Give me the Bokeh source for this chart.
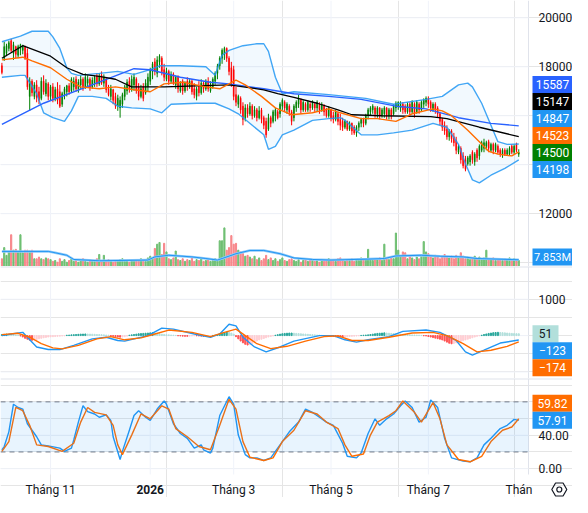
from bokeh.plotting import figure
from bokeh.models import Range1d, Label, BoxAnnotation, ColumnDataSource
from bokeh.layouts import column
from bokeh.embed import file_html
from bokeh.resources import INLINE

# ---------------- data ----------------
bar_index = list(range(-21, 203))

month_ticks = [0, 43, 79, 121, 163]
month_labels = ["Tháng 11", "2026", "Tháng 3", "Tháng 5", "Tháng 7"]
month_bold = [False, True, False, False, False]
last_month_label = "Thán"

opens = [18040,18350,18550,18750,19060,18550,18820,18470,18750,18670,
         18820,18550,16790,17410,16790,17260,16980,16710,17410,16900,
         17300,16790,17180,16710,17100,16980,16470,16860,16980,17220,
         17020,17180,17490,17100,17260,17490,17180,17330,17490,17180,
         17330,17610,17300,17650,17330,17490,17100,16790,17060,16790,
         16390,16320,16470,16790,17020,17410,17100,17260,17490,17180,
         16790,17180,16940,17180,17410,17810,18200,17730,18200,18350,
         17880,17490,17810,17410,17690,17260,17570,17020,17410,17020,
         17410,17180,17410,17100,16790,17180,16940,17330,17100,17410,
         17020,17180,17410,17730,18040,18350,18510,18750,18350,17960,
         17880,16860,16470,16710,16390,15920,16320,16080,16390,16000,
         16240,15920,16240,15920,15770,15450,15920,15770,16000,16160,
         16080,16390,16550,16240,16390,16160,15920,16320,16470,16630,
         16240,16470,16240,16470,16320,16470,16320,16470,16240,16390,
         16240,16000,16240,16000,15850,16080,15850,15770,15530,15770,
         15450,15690,15530,15300,15530,15690,15850,15690,16000,16160,
         16240,16320,16080,16320,16000,16080,16320,16000,16240,16080,
         16320,16390,16320,16470,16390,16160,16470,16160,16470,16160,
         16470,16240,16470,16550,16710,16550,16240,16470,16320,16080,
         15850,15610,15450,15140,15380,15140,14980,14510,14670,14360,
         14200,14040,14120,14510,14120,14590,14360,14590,14670,14750,
         14940,14590,14830,14590,14750,14590,14430,14590,14430,14430,
         14750,14510,14830,14430]
highs = [18160,19020,18940,19060,19140,19020,18860,18900,18940,18900,
         18860,18750,17570,17490,17370,17450,17180,17570,17650,17490,
         17370,17260,17330,17180,17370,17260,16980,17180,17260,17330,
         17570,17570,17610,17490,17650,17570,17730,17650,17570,17570,
         17650,17730,17730,17810,17690,17570,17260,17260,17100,16940,
         16860,16790,16940,17260,17490,17570,17650,17730,17570,17330,
         17260,17330,17490,17730,17960,18200,18350,18430,18510,18430,
         18120,17960,17880,17810,17770,17650,17650,17410,17490,17410,
         17570,17490,17490,17330,17180,17410,17490,17410,17490,17570,
         17410,17570,17810,18120,18430,18750,18820,18790,18430,18200,
         18040,17180,16860,16790,16550,16470,16470,16550,16470,16390,
         16320,16390,16320,16000,15920,16080,16000,16240,16320,16240,
         16550,16710,16630,16550,16470,16240,16470,16630,16860,16710,
         16630,16550,16630,16550,16630,16550,16630,16550,16550,16470,
         16320,16390,16280,16160,16240,16160,16080,15920,15850,15800,
         15770,15720,15610,15610,15770,15920,15920,16080,16320,16390,
         16470,16390,16390,16350,16320,16390,16350,16320,16320,16470,
         16590,16590,16590,16550,16470,16550,16550,16630,16550,16630,
         16550,16630,16710,16790,16790,16630,16550,16550,16390,16160,
         15920,15770,15610,15450,15450,15300,15140,14830,14750,14510,
         14360,14360,14430,14590,14510,14670,14830,14980,15060,14980,
         15020,14900,14900,14900,14830,14670,14670,14670,14670,14750,
         14830,14830,14900,14630]
lows = [17690,18240,18430,18630,18590,18280,18350,18350,18470,18510,
        18280,17060,16200,16790,16670,16550,16470,16630,16860,16790,
        16630,16630,16550,16590,16470,16320,16360,16670,16790,16860,
        16940,17020,16980,16940,17100,17020,17100,17180,17020,17100,
        17180,17180,17220,17260,17180,16940,16790,16630,16470,16280,
        16200,15920,16320,16630,16860,16940,16980,17020,16900,16630,
        16710,16590,16860,16980,17260,17490,17650,17570,17960,17650,
        17410,17410,17260,17330,17260,17100,16940,16940,16860,16940,
        17020,17100,16860,16710,16630,16790,16860,16940,17020,16980,
        16940,17100,17260,17490,17880,18120,18280,18200,17650,17180,
        16630,16390,16320,16080,15610,15770,15920,16000,15850,15920,
        15770,15850,15690,15450,15100,15380,15530,15690,15770,15850,
        15920,16240,16160,16080,16000,15610,15770,16160,16320,16080,
        16160,16160,16160,16160,16240,16160,16160,16080,16160,16000,
        15920,15920,15770,15690,15770,15610,15410,15380,15450,15380,
        15380,15220,15220,15140,15380,15530,15530,15610,15850,16000,
        16080,15920,15920,15850,15920,15920,15850,15850,15850,16000,
        16160,16240,16160,16080,16080,16080,16000,16080,15920,16080,
        16080,16160,16320,16390,16320,16160,16160,16080,15920,15610,
        15380,15220,15020,14980,14900,14750,14430,14430,14040,13850,
        13730,13960,13960,14040,13960,14120,14200,14510,14510,14590,
        14510,14510,14430,14510,14430,14320,14280,14360,14360,14360,
        14430,14430,14510,14320]
closes = [17770,18820,18860,18980,18670,18900,18510,18820,18900,18860,
          18350,17180,17410,16940,17260,16750,16630,17410,16980,17330,
          16790,17180,16710,17060,16630,16390,16900,17100,17220,16980,
          17490,17410,17100,17370,17490,17180,17570,17490,17140,17450,
          17570,17300,17610,17330,17570,17060,16860,17100,16630,16390,
          16710,16630,16860,17180,17370,17100,17490,17570,17020,16790,
          17100,16710,17330,17570,17880,18120,17810,18280,18430,17810,
          17570,17810,17410,17690,17330,17570,17100,17330,17020,17330,
          17180,17410,16980,16860,17100,16940,17330,17100,17410,17100,
          17260,17490,17730,18040,18350,18670,18750,18350,17810,17330,
          16790,16550,16790,16240,15850,16320,16080,16390,16000,16240,
          15920,16200,15850,15610,15220,15920,15690,16160,16240,15920,
          16470,16630,16320,16470,16160,15770,16390,16550,16710,16240,
          16550,16240,16550,16320,16550,16320,16550,16240,16470,16160,
          16000,16320,15920,15850,16160,15770,15610,15530,15770,15450,
          15690,15380,15300,15530,15690,15850,15690,16000,16240,16320,
          16390,16080,16320,16000,16240,16320,16000,16240,16000,16390,
          16510,16550,16470,16240,16160,16470,16160,16550,16080,16550,
          16240,16550,16630,16710,16470,16320,16470,16240,16080,15770,
          15530,15380,15140,15380,15060,14900,14590,14750,14200,13960,
          13810,14280,14360,14200,14430,14280,14750,14900,14900,14900,
          14670,14830,14590,14830,14510,14430,14590,14430,14590,14670,
          14510,14750,14590,14500]

volumes_m = [9,22,13,17,37,19,20,17,37,16,19,19,18,19,9,9,11,9,8,10,9,
             8,6,7,5,9,6,8,5,7,10,6,8,5,7,9,6,5,8,7,6,9,
             14,7,13,6,8,7,5,6,7,8,9,6,7,5,8,6,7,8,9,7,6,10,
             12,10,21,26,28,14,27,17,9,8,10,18,8,7,9,6,8,7,10,6,8,7,9,6,7,8,6,7,9,8,
             30,30,45,19,22,36,26,27,19,17,15,12,13,
             11,9,12,8,10,7,9,13,8,10,7,9,6,8,10,7,6,8,9,7,6,8,5,7,9,6,7,8,6,7,5,8,6,7,9,
             7,8,6,9,10,7,6,8,7,9,6,8,7,10,8,9,20,8,7,9,8,10,7,26,9,8,
             10,9,39,19,11,17,16,9,12,10,8,11,9,12,
             29,17,15,12,10,13,11,9,12,14,11,10,12,9,13,
             10,16,12,9,11,8,10,12,9,11,8,10,19,9,8,10,7,9,8,7,9,8,10,7,9,8,7]

vol_ma_idx = [-21,-1,2,7,10,21,42,45,51,61,67,72,74,80,86,92,99,105,113,121,137,144,149,160,168,178,184,202]
vol_ma_val = [17.6,17.6,16.0,13.1,8.2,6.7,7.5,11.2,13.1,11.2,9.3,7.5,9.3,14.9,18.7,18.7,14.9,10.0,8.2,7.5,8.6,9.3,12.3,13.1,12.0,11.2,9.3,7.853]

ma_long_idx = [-21,-3,21,36,43,56,69,77,92,105,120,134,149,162,176,190,202]
ma_long_val = [15650,16510,17370,17920,17880,17570,17370,17300,17100,16900,16790,16670,16390,16280,15920,15690,15587]

ma_mid_idx = [-21,-12,0,7,14,21,28,35,49,63,77,92,98,105,115,124,130,143,164,171,185,202]
ma_mid_val = [18350,18860,18430,17960,17690,17610,17490,17180,17180,17220,17260,17060,16900,16750,16510,16240,16040,16000,15960,15880,15530,15147]

bb_mid_idx = [-21,-12,-8,0,7,13,21,28,36,43,49,57,67,73,80,84,91,97,104,113,120,125,134,141,149,156,165,169,173,180,185,189,193,199,202]
bb_mid_val = [18280,18390,18240,17960,17490,17180,17100,17180,17060,16980,17300,17370,17180,17100,17450,17260,16790,16320,16040,16120,16280,16120,15880,15880,15770,16080,16280,16200,16000,15410,14940,14550,14430,14360,14523]

bb_up_idx = [-21,-13,-8,-1,1,4,7,9,12,21,29,36,43,47,56,67,71,74,77,83,89,92,94,97,100,105,120,136,148,162,169,176,180,182,186,190,193,197,202]
bb_up_val = [19020,19250,19450,19450,19220,18750,17960,17730,17650,17730,17810,17690,17880,18040,18040,18000,17650,18470,18670,18860,18940,18940,18630,17570,16900,16980,16860,16710,16470,16670,16790,17260,17330,17180,16510,15610,14940,14830,14847]

bb_low_idx = [-21,-13,-11,-6,-3,1,6,9,12,18,24,29,35,43,48,52,63,71,77,81,87,92,94,97,100,105,113,120,125,127,134,141,148,156,165,171,176,179,182,185,190,196,202]
bb_low_val = [17570,17650,17650,16900,16120,15920,15770,16200,16790,16790,16710,16390,16320,16280,16120,16470,16510,16510,16280,16080,15610,15220,14630,14750,15220,15410,15810,15880,15920,15810,15220,15220,15300,15410,15690,15530,14830,14040,13380,13260,13570,13850,14198]

macd_idx = [-21,-17,-12,-10,-6,-1,4,10,18,24,29,32,42,48,53,62,69,73,77,80,83,88,93,99,105,116,122,127,132,137,146,152,162,168,175,179,182,187,194,202]
macd_val = [0,45,89,-45,-313,-384,-384,-268,-89,-45,-134,-152,0,205,179,45,-45,45,313,268,-45,-313,-447,-313,-152,0,0,-116,-179,-116,-27,116,152,89,-134,-447,-536,-402,-205,-123]

signal_idx = [-21,-14,-9,-4,1,5,12,20,26,32,39,45,51,61,69,75,80,84,89,95,102,110,118,124,130,137,146,156,165,171,178,184,190,197,202]
signal_val = [27,63,-45,-223,-339,-366,-268,-89,-27,-116,-63,45,152,89,-27,89,179,0,-223,-357,-295,-152,-27,-9,-134,-134,-45,71,89,0,-223,-447,-402,-295,-174]

hist = [30,35,40,38,32,25,15,8,-10,
        -40,-75,-100,-125,-130,-120,-105,-90,-75,-60,-50,-40,
        -35,-30,-25,-20,-15,-10,-5,
        10,15,20,25,30,35,40,42,45,42,40,38,35,30,28,25,20,15,10,
        -10,-20,-30,-40,-45,-40,-30,-15,
        10,20,30,40,50,55,60,65,70,75,78,70,60,50,40,30,25,20,15,
        10,5,-5,-10,-15,-20,-20,-15,-10,-5,-5,-10,-15,-20,-15,-10,-5,5,10,
        30,50,70,85,95,90,70,40,
        -30,-90,-150,-200,-240,-260,-250,-220,-180,
        -150,-120,-100,-80,-60,-40,-25,-10,10,25,
        40,50,60,65,70,70,65,60,55,50,45,40,35,30,25,20,15,10,5,-5,-10,-15,
        -20,-25,-30,-35,-40,-40,-35,-30,-25,-20,-15,-10,-5,5,10,15,
        20,30,40,50,60,65,70,75,70,65,60,55,50,45,40,35,
        30,25,20,18,15,12,10,5,-5,-10,
        -25,-40,-55,-70,-85,-100,-120,-150,-180,-210,-225,-215,
        -200,-180,-160,-140,-120,-100,-80,-60,-40,-20,-5,10,
        30,45,60,70,80,85,90,85,80,75,70,65,60,55,52,51]

k_idx = [-21,-20,-18,-16,-14,-12,-10,-6,-4,-1, 4,6,9,10,12,14,16,19,21,24,
         26,27,30,31,34,36,38,41,43,46, 49,50,53,56,59,62,65,66,69,70,
         73,77,79,81,84,86,89,92,95,99, 103,107,110,113,116,119,122,126,128,132,
         134,137,140,142,145,148,151,153,156,159, 162,164,167,170,173,178,181,184,187,190,
         194,197,200,202]
k_val = [22.6,26.5,44.1,77.2,73.3,71.4,53.8,38.2,28.5,27.3, 24.6,20.7,24.6,34.3,55.8,75.3,68.3,65.5,61.6,64.4,
         57.7,38.2,10.9,20.7,46.0,63.6,69.4,61.6,57.7,71.4, 81.1,77.2,53.8,42.1,36.3,24.6,28.5,22.6,18.7,24.6,
         63.6,86.2,77.2,40.2,16.8,12.9,12.9,9.8,12.9,28.5, 44.1,55.8,71.4,67.5,61.6,55.8,51.9,30.4,14.8,12.9,
         18.7,42.1,59.7,51.9,59.7,65.5,75.3,81.1,73.3,55.8, 61.6,82.3,73.3,36.3,12.9,9.0,8.2,12.9,28.5,36.3,
         48.0,51.9,59.0,57.91]

d_idx = [-21,-18,-15,-12,-9,-6,-1,5,10,13, 16,19,24,27,29,31,35,39,43,48,
         51,54,59,64,69,73,77,80,83,86, 92,96,100,105,110,115,119,124,127,130,
         135,138,141,146,149,152,157,160,165,168, 171,176,181,186,190,195,199,202]
d_val = [20.7,32.4,73.3,69.4,51.9,28.5,26.5,20.7,30.4,55.8, 73.3,67.5,64.4,51.9,28.5,16.8,40.2,65.5,59.7,75.3,
         71.4,48.0,38.2,26.5,22.6,51.9,83.1,71.4,32.4,13.7, 9.8,12.9,32.4,46.0,69.4,65.5,55.8,48.0,28.5,14.8,
         17.6,40.2,55.8,63.6,69.4,81.1,67.5,55.8,79.2,59.7, 28.5,10.9,8.2,14.8,32.4,46.0,49.9,59.82]

price_ticks = [12000, 14000, 16000, 18000, 20000]
macd_ticks = [-1000, 0, 1000]
stoch_ticks = [0, 40, 80]
stoch_bands = [20, 80]

# ---------------- layout & style ----------------
FONT = "Roboto"
TXT = "#131722"
GRID = "#f0f3fa"
SEP = "#e0e3eb"
UP, DOWN = "#008000", "#ff0000"
TW = 572            # total width
FW = 528            # plotting area width (rest is the price scale)
H1, H2, H3, HX = 266, 112, 96, 23
X_LO, X_HI = -21.6, 206.2
X_END = X_LO + (X_HI - X_LO) * TW / FW
XPP = (X_END - X_LO) / TW
P_LO, P_HI = 9843, 20706
V_LO, V_HI = 0, 310
M_LO, M_HI = -1180, 1900
S_LO, S_HI = -7, 108
S_AX = S_LO - (S_HI - S_LO) * HX / H3
BOX_H = 17

x_range = Range1d(X_LO, X_END)


def make_fig(h, y_lo, y_hi, grid_lo=None):
    p = figure(width=TW, height=h, x_range=x_range, y_range=Range1d(y_lo, y_hi),
               x_axis_location=None, y_axis_location=None, output_backend="svg",
               toolbar_location=None, min_border=0,
               background_fill_color="white", border_fill_color="white",
               outline_line_color=None)
    glo = y_lo if grid_lo is None else grid_lo
    p.segment(x0=month_ticks, x1=month_ticks, y0=[glo] * len(month_ticks),
              y1=[y_hi] * len(month_ticks), line_color=GRID, line_width=1)
    p.segment(x0=[X_HI], x1=[X_HI], y0=[glo], y1=[y_hi], line_color=SEP, line_width=1)
    return p


def hgrid(p, ticks):
    p.segment(x0=[X_LO] * len(ticks), x1=[X_HI] * len(ticks), y0=ticks, y1=ticks,
              line_color=GRID, line_width=1)


def stack(items, lo, hi, h, anchor):
    pos = [(v - lo) / (hi - lo) * h for v in [it[0] for it in items]]
    order = sorted(range(len(items)), key=lambda k: -pos[k])
    a = order.index(anchor)
    pp = [pos[k] for k in order]
    for j in range(a - 1, -1, -1):
        pp[j] = max(pp[j], pp[j + 1] + BOX_H)
    for j in range(a + 1, len(pp)):
        pp[j] = min(pp[j], pp[j - 1] - BOX_H)
    out = [None] * len(items)
    for j, k in enumerate(order):
        out[k] = pp[j]
    return out


def scale_labels(p, ticks, texts, lo, hi, h, box_pos):
    for v, t in zip(ticks, texts):
        py = (v - lo) / (hi - lo) * h
        if py < 6 or py > h - 6:
            continue
        if any(abs(py - b) < 13 for b in box_pos):
            continue
        p.add_layout(Label(x=FW + 10, y=py, x_units="screen", y_units="screen", text=t,
                           text_align="left", text_baseline="middle", text_font=FONT,
                           text_font_size="12px", text_color=TXT))


def value_boxes(p, items, pos, lo, hi, h):
    ypp = (hi - lo) / h
    for (v, text, bg, fg, fs), py in zip(items, pos):
        yc = lo + py * ypp
        left_px = FW + 4
        right_px = min(TW, left_px + 7 * len(text) + 12)
        p.quad(left=[X_LO + left_px * XPP], right=[X_LO + right_px * XPP],
               bottom=[yc - BOX_H / 2 * ypp], top=[yc + BOX_H / 2 * ypp],
               fill_color=bg, line_color=None)
        p.add_layout(Label(x=(left_px + right_px) / 2, y=py, x_units="screen", y_units="screen",
                           text=text, text_align="center", text_baseline="middle",
                           text_font=FONT, text_font_size=fs, text_color=fg))


def minus(s):
    return s.replace("-", "\u2212")

# ---------------- price pane ----------------
p1 = make_fig(H1, P_LO, P_HI)
hgrid(p1, price_ticks)
p1.extra_y_ranges = {"vol": Range1d(V_LO, V_HI)}

p1.patch(x=bb_up_idx + bb_low_idx[::-1], y=bb_up_val + bb_low_val[::-1],
         fill_color="#2196f3", fill_alpha=0.06, line_color=None)

up_flags = [c >= o for o, c in zip(opens, closes)]
vol_colors = ["#6fbf73" if u else "#f7868a" for u in up_flags]
vsrc = ColumnDataSource(dict(x=bar_index, top=volumes_m, color=vol_colors))
p1.vbar(x="x", top="top", bottom=0, width=0.5, color="color", source=vsrc, y_range_name="vol")
p1.line(vol_ma_idx, vol_ma_val, line_color="#90caf9", line_width=2.5, y_range_name="vol")
p1.line(vol_ma_idx, vol_ma_val, line_color="#2196f3", line_width=1, y_range_name="vol")

csrc = ColumnDataSource(dict(
    x=bar_index, o=opens, h=highs, l=lows, c=closes,
    color=[UP if u else DOWN for u in up_flags]))
p1.segment(x0="x", y0="h", x1="x", y1="l", line_color="color", line_width=1, source=csrc)
p1.vbar(x="x", top="o", bottom="c", width=0.4, fill_color="color", line_color="color",
        line_width=0.5, source=csrc)

p1.line(bb_up_idx, bb_up_val, line_color="#2196f3", line_width=1.4, line_alpha=0.85)
p1.line(bb_low_idx, bb_low_val, line_color="#2196f3", line_width=1.4, line_alpha=0.85)
p1.line(ma_long_idx, ma_long_val, line_color="#2962ff", line_width=1.4)
p1.line(ma_mid_idx, ma_mid_val, line_color="#000000", line_width=1.3)
p1.line(bb_mid_idx, bb_mid_val, line_color="#ff6d00", line_width=1.4)

price_items = [
    (ma_long_val[-1], str(ma_long_val[-1]), "#2962ff", "white", "12px"),
    (ma_mid_val[-1], str(ma_mid_val[-1]), "#000000", "white", "12px"),
    (bb_up_val[-1], str(bb_up_val[-1]), "#2196f3", "white", "12px"),
    (bb_mid_val[-1], str(bb_mid_val[-1]), "#ff6d00", "white", "12px"),
    (closes[-1], str(closes[-1]), UP if up_flags[-1] else DOWN, "white", "12px"),
    (bb_low_val[-1], str(bb_low_val[-1]), "#2196f3", "white", "12px"),
]
price_pos = stack(price_items, P_LO, P_HI, H1, anchor=4)
vol_item = [(vol_ma_val[-1], "%.3fM" % vol_ma_val[-1], "#2196f3", "white", "11px")]
vol_pos = [max((vol_ma_val[-1] - V_LO) / (V_HI - V_LO) * H1, BOX_H / 2 + 1)]
scale_labels(p1, price_ticks, [str(t) for t in price_ticks], P_LO, P_HI, H1, price_pos + vol_pos)
value_boxes(p1, price_items, price_pos, P_LO, P_HI, H1)
value_boxes(p1, [(vol_ma_val[-1] * (P_HI - P_LO) / (V_HI - V_LO) + P_LO,) + vol_item[0][1:]],
            vol_pos, P_LO, P_HI, H1)

# ---------------- MACD pane ----------------
p2 = make_fig(H2, M_LO, M_HI)
hgrid(p2, macd_ticks)
p2.segment(x0=[X_LO], x1=[X_END], y0=[M_HI], y1=[M_HI], line_color=SEP, line_width=2)

hist_colors = []
prev = None
for hv in hist:
    if hv >= 0:
        hist_colors.append("#26a69a" if (prev is None or hv >= prev) else "#b2dfdb")
    else:
        hist_colors.append("#ff5252" if (prev is None or hv <= prev) else "#ffcdd2")
    prev = hv
hsrc = ColumnDataSource(dict(x=bar_index, top=hist, color=hist_colors))
p2.vbar(x="x", top="top", bottom=0, width=0.45, color="color", source=hsrc)
p2.line(macd_idx, macd_val, line_color="#2196f3", line_width=1.4)
p2.line(signal_idx, signal_val, line_color="#ff6d00", line_width=1.4)

macd_items = [
    (hist[-1], minus(str(hist[-1])), "#b2dfdb", TXT, "12px"),
    (macd_val[-1], minus(str(macd_val[-1])), "#2196f3", "white", "12px"),
    (signal_val[-1], minus(str(signal_val[-1])), "#ff6d00", "white", "12px"),
]
macd_pos = stack(macd_items, M_LO, M_HI, H2, anchor=0)
scale_labels(p2, macd_ticks, [minus(str(t)) for t in macd_ticks], M_LO, M_HI, H2, macd_pos)
value_boxes(p2, macd_items, macd_pos, M_LO, M_HI, H2)

# ---------------- Stochastic pane (+ time scale) ----------------
H3T = H3 + HX
p3 = make_fig(H3T, S_AX, S_HI, grid_lo=S_LO)
hgrid(p3, [t for t in stoch_ticks if t not in stoch_bands])
p3.segment(x0=[X_LO], x1=[X_END], y0=[S_HI], y1=[S_HI], line_color=SEP, line_width=2)
p3.add_layout(BoxAnnotation(bottom=stoch_bands[0], top=stoch_bands[1], right=X_HI,
                            fill_color="#2196f3", fill_alpha=0.1, line_color=None))
p3.segment(x0=[X_LO] * 2, x1=[X_HI] * 2, y0=stoch_bands, y1=stoch_bands,
           line_color="#787b86", line_dash="5 4", line_width=1)
p3.line(k_idx, k_val, line_color="#2196f3", line_width=1.4)
p3.line(d_idx, d_val, line_color="#ff6d00", line_width=1.4)

stoch_items = [
    (d_val[-1], "%.2f" % d_val[-1], "#ff6d00", "white", "12px"),
    (k_val[-1], "%.2f" % k_val[-1], "#2196f3", "white", "12px"),
]
stoch_pos = [p + HX for p in stack(stoch_items, S_LO, S_HI, H3, anchor=1)]
scale_labels(p3, stoch_ticks, ["%.2f" % t for t in stoch_ticks], S_AX, S_HI, H3T, stoch_pos)
value_boxes(p3, stoch_items, stoch_pos, S_AX, S_HI, H3T)

for t, lab, b in zip(month_ticks, month_labels, month_bold):
    p3.add_layout(Label(x=t, y=HX - 15, y_units="screen", text=lab,
                        text_align="center", text_baseline="middle", text_font=FONT,
                        text_font_size="12px", text_font_style="bold" if b else "normal",
                        text_color=TXT))
p3.add_layout(Label(x=FW + 4, y=HX - 15, x_units="screen", y_units="screen", text=last_month_label,
                    text_align="right", text_baseline="middle", text_font=FONT,
                    text_font_size="12px", text_color=TXT))
# settings (gear) icon in the corner of the scales
gx = X_HI + (X_END - X_HI) * 0.7
gy = S_AX + (S_LO - S_AX) * (HX - 15) / HX
p3.scatter([gx], [gy], marker="hex", size=15, fill_color=None, line_color=TXT, line_width=1.2)
p3.scatter([gx], [gy], marker="circle", size=5, fill_color=None, line_color=TXT, line_width=1.2)

layout = column(p1, p2, p3, spacing=0)
open("out.html", "w").write(file_html(layout, INLINE))
